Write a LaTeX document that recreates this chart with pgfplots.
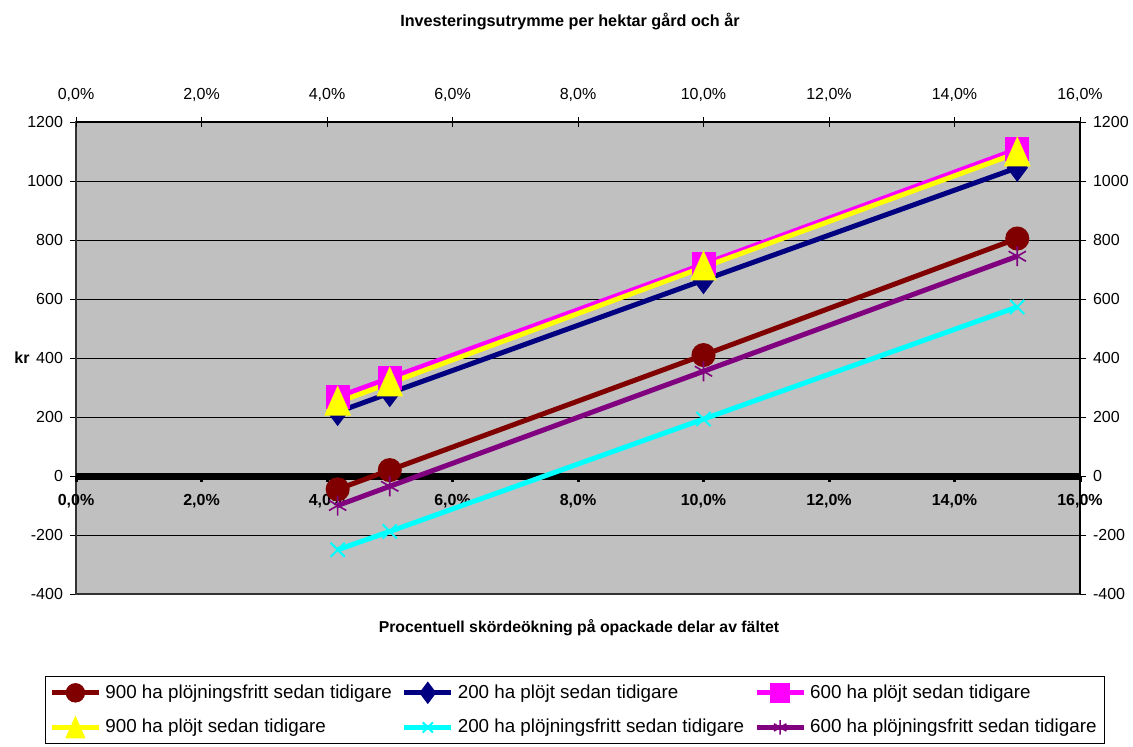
\documentclass[border=0pt]{standalone}
\usepackage{fontspec}
\setmainfont{Liberation Sans}
\usepackage{pgfplots}
\pgfplotsset{compat=1.18}
\definecolor{bgray}{RGB}{192,192,192}
\definecolor{cMaroon}{RGB}{128,0,0}
\definecolor{cNavy}{RGB}{0,0,128}
\definecolor{cMag}{RGB}{255,0,255}
\definecolor{cYel}{RGB}{255,255,0}
\definecolor{cCyan}{RGB}{0,255,255}
\definecolor{cPurp}{RGB}{128,0,128}
\pgfplotsset{common/.style={scale only axis, width=502pt, height=236pt,
  at={(38pt,76pt)}, anchor=south west, xmin=0, xmax=16, ymin=-400, ymax=1200,
  /pgf/number format/assume math mode=true, /pgf/number format/1000 sep={},
  tick label style={font=\fontsize{8}{9}\selectfont}}}
\begin{document}
\begin{tikzpicture}
\path[use as bounding box] (0,0) rectangle (566.5pt,373pt);
% A: background, grid, left ticks
\begin{axis}[common, axis background/.style={fill=bgray},
  axis line style={black!80, line width=0.6pt},
  xtick=\empty, ytick={-400,-200,...,1200}, ymajorgrids,
  grid style={black, line width=0.5pt},
  ytick pos=left, tick align=outside, major tick length=3pt,
  tick style={black, line width=0.5pt}]
\end{axis}
% B: top x axis
\begin{axis}[common, hide y axis, axis x line*=top, axis line style={black, line width=0.6pt, -},
  xtick={0,2,...,16},
  xticklabels={{0,0\%},{2,0\%},{4,0\%},{6,0\%},{8,0\%},{10,0\%},{12,0\%},{14,0\%},{16,0\%}},
  tick align=center, major tick length=5pt, tick style={black, line width=0.5pt},
  xticklabel style={yshift=4pt}]
\end{axis}
% C: right y axis
\begin{axis}[common, hide x axis, axis y line*=right, axis line style={black, line width=0.6pt, -},
  ytick={-400,-200,...,1200}, tick align=outside, major tick length=3pt,
  tick style={black, line width=0.5pt}]
\end{axis}
% D: zero axis
\begin{axis}[common, hide y axis, axis x line=middle, hide obscured x ticks=false,
  axis line style={black, line width=3.5pt, -},
  xtick={0,2,...,16},
  xticklabels={{0,0\%},{2,0\%},{4,0\%},{6,0\%},{8,0\%},{10,0\%},{12,0\%},{14,0\%},{16,0\%}},
  tick align=outside, major tick length=3pt, tick style={black, line width=1.5pt},
  xticklabel style={font=\bfseries\fontsize{8}{9}\selectfont, yshift=-2.5pt}]
\end{axis}
% E: data
\begin{axis}[common, hide axis, clip=false,
  legend columns=3, legend cell align=left,
  legend style={at={(0.497,-0.1737)}, anchor=north, draw=black, line width=0.5pt, fill=white,
    font=\fontsize{9.4}{11}\selectfont, inner xsep=2pt, inner ysep=2pt, row sep=5pt,
    /tikz/every even column/.append style={column sep=3pt}},
  legend image code/.code={\draw[mark repeat=2,mark phase=2,#1,mark size=3.6pt] plot coordinates {(0pt,0pt) (11.75pt,0pt) (23.5pt,0pt)};},
  every axis plot/.append style={line width=2.5pt}]
\addplot[cMaroon, mark=*, mark size=4.75pt, mark options={solid}] coordinates {(4.17,-45) (5,20) (10,410) (15,805)};
\addlegendentry{900 ha plöjningsfritt sedan tidigare}
\addplot[cNavy, mark=diamond*, mark size=5pt] coordinates {(4.17,217) (5,281) (10,664) (15,1045)};
\addlegendentry{200 ha plöjt sedan tidigare}
\addplot[cMag, mark=square*, mark size=4.75pt] coordinates {(4.17,268) (5,332) (10,718) (15,1108)};
\addlegendentry{600 ha plöjt sedan tidigare}
\addplot[cYel, mark=triangle*, mark size=5.5pt, mark options={yscale=1.3, yshift=-1.4pt}] coordinates {(4.17,250) (5,315) (10,708) (15,1095)};
\addlegendentry{900 ha plöjt sedan tidigare}
\addplot[cCyan, mark=x, mark size=5pt, mark options={line width=1pt}] coordinates {(4.17,-250) (5,-188) (10,193) (15,573)};
\addlegendentry{200 ha plöjningsfritt sedan tidigare}
\addplot[cPurp, mark=asterisk, mark size=5pt, mark options={line width=0.8pt}] coordinates {(4.17,-100) (5,-35) (10,355) (15,745)};
\addlegendentry{600 ha plöjningsfritt sedan tidigare}
\end{axis}
\node[font=\bfseries\fontsize{8.1}{10}\selectfont] at (285pt,362pt) {Investeringsutrymme per hektar gård och år};
\node[font=\bfseries\fontsize{7.9}{10}\selectfont] at (289.5pt,59pt) {Procentuell skördeökning på opackade delar av fältet};
\node[font=\bfseries\fontsize{8}{10}\selectfont] at (11pt,194pt) {kr};
\end{tikzpicture}
\end{document}
